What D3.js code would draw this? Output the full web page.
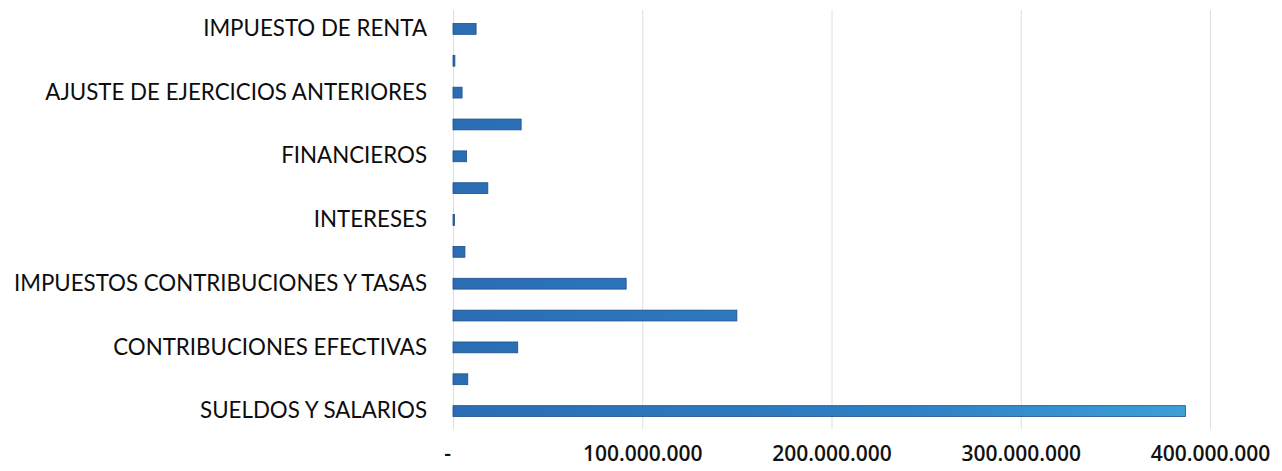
<!DOCTYPE html>
<html>
<head>
<meta charset="utf-8">
<script src="https://cdn.jsdelivr.net/npm/d3@7"></script>
<style>
  html, body { margin: 0; padding: 0; background: #ffffff; }
  svg { display: block; }
</style>
</head>
<body>
<svg id="chart" width="1282" height="471"></svg>
<script>
// Expense accounts, listed from the bottom of the chart upwards
const categories = [
  "SUELDOS Y SALARIOS",
  "CONTRIBUCIONES IMPUTADAS",
  "CONTRIBUCIONES EFECTIVAS",
  "GENERALES",
  "IMPUESTOS CONTRIBUCIONES Y TASAS",
  "DEPRECIACIONES",
  "INTERESES",
  "COMISIONES",
  "FINANCIEROS",
  "OTROS GASTOS",
  "AJUSTE DE EJERCICIOS ANTERIORES",
  "EXTRAORDINARIOS",
  "IMPUESTO DE RENTA"
];

// Amounts in pesos
const values = [
  387000000,
  7800000,
  34200000,
  150000000,
  91500000,
  6300000,
  500000,
  18400000,
  7200000,
  36000000,
  4800000,
  1000000,
  12200000
];

const xTicks = [0, 100000000, 200000000, 300000000, 400000000];

const svg = d3.select("#chart");
const plotLeft = 453, plotRight = 1210, plotTop = 13, plotBottom = 427;

const x = d3.scaleLinear().domain([0, 400000000]).range([plotLeft, plotRight]);

const y = d3.scaleBand()
  .domain(categories.slice().reverse())
  .range([plotTop, plotBottom])
  .paddingInner(0.66)
  .paddingOuter(0.33);

// thousands separated with dots, zero shown as a dash
const fmt = d => d === 0 ? "-" : d3.format(",")(d).replace(/,/g, ".");

// vertical gridlines
svg.append("g")
  .selectAll("line")
  .data(xTicks)
  .join("line")
  .attr("x1", d => x(d) + 0.5)
  .attr("x2", d => x(d) + 0.5)
  .attr("y1", 10)
  .attr("y2", 429)
  .attr("stroke", "#dedede")
  .attr("stroke-width", 1);

// bar colouring
const defs = svg.append("defs");
const grad = defs.append("linearGradient")
  .attr("id", "barFill")
  .attr("gradientUnits", "userSpaceOnUse")
  .attr("x1", plotLeft).attr("x2", plotRight)
  .attr("y1", 0).attr("y2", 0);
grad.append("stop").attr("offset", "0%").attr("stop-color", "#2a6db4");
grad.append("stop").attr("offset", "60%").attr("stop-color", "#2f80c4");
grad.append("stop").attr("offset", "100%").attr("stop-color", "#3da2d8");

svg.append("g")
  .selectAll("rect")
  .data(categories.map((c, i) => ({ c, v: values[i] })))
  .join("rect")
  .attr("x", x(0))
  .attr("y", d => y(d.c))
  .attr("width", d => Math.max(1.5, x(d.v) - x(0)))
  .attr("height", y.bandwidth())
  .attr("fill", "url(#barFill)")
  .attr("stroke", "#1d4f8c")
  .attr("stroke-width", 0.8);

// category axis: every other label fits
const shown = categories.filter((c, i) => i % 2 === 0);
const yAxis = d3.axisLeft(y).tickValues(shown).tickSize(0).tickPadding(26);
const gy = svg.append("g")
  .attr("transform", `translate(${plotLeft},0)`)
  .call(yAxis);
gy.select(".domain").remove();
gy.selectAll("text")
  .attr("font-family", "Lato, 'Open Sans', sans-serif")
  .attr("font-size", 22.3)
  .attr("fill", "#0d0d0d");

// value axis
const xAxis = d3.axisBottom(x).tickValues(xTicks).tickFormat(fmt).tickSize(0).tickPadding(0);
const gx = svg.append("g")
  .attr("transform", `translate(0,446)`)
  .call(xAxis);
gx.select(".domain").remove();
gx.selectAll("text")
  .attr("font-family", "'Open Sans', sans-serif")
  .attr("font-size", 21)
  .attr("font-weight", 600)
  .attr("fill", "#111111")
  .attr("dx", d => d === 0 ? -6 : 0);
</script>
</body>
</html>
